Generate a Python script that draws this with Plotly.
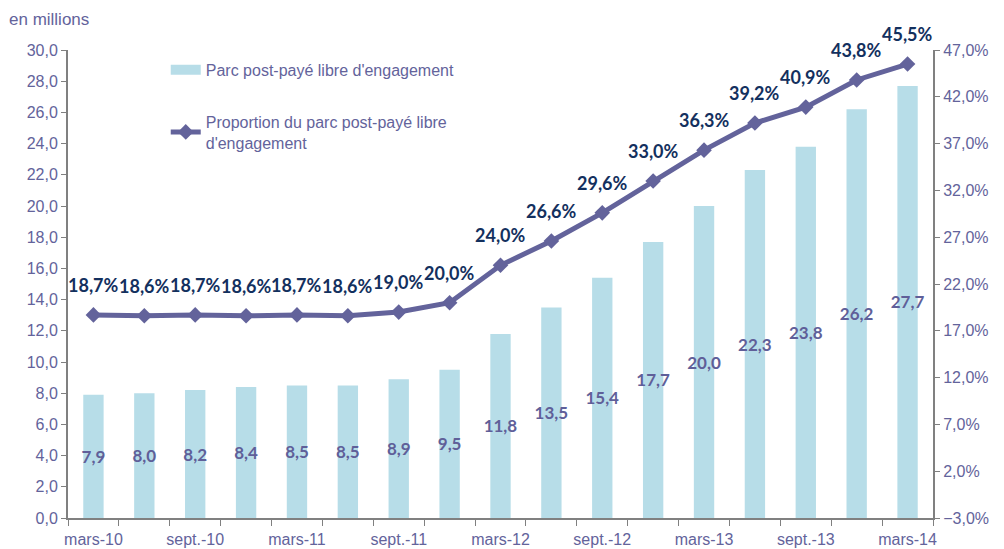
import plotly.graph_objects as go

categories = ["mars-10", "juin-10", "sept.-10", "déc.-10", "mars-11", "juin-11", "sept.-11", "déc.-11",
              "mars-12", "juin-12", "sept.-12", "déc.-12", "mars-13", "juin-13", "sept.-13", "déc.-13", "mars-14"]
tick_labels = ["mars-10", "", "sept.-10", "", "mars-11", "", "sept.-11", "", "mars-12", "", "sept.-12", "",
               "mars-13", "", "sept.-13", "", "mars-14"]
parc = [7.9, 8.0, 8.2, 8.4, 8.5, 8.5, 8.9, 9.5, 11.8, 13.5, 15.4, 17.7, 20.0, 22.3, 23.8, 26.2, 27.7]
proportion = [18.7, 18.6, 18.7, 18.6, 18.7, 18.6, 19.0, 20.0, 24.0, 26.6, 29.6, 33.0, 36.3, 39.2, 40.9, 43.8, 45.5]

fmt = lambda v: f"{v:.1f}".replace(".", ",")

axis_col = "#63639B"
bar_col = "#B7DDE8"
line_col = "#63639B"

fig = go.Figure()
fig.add_trace(go.Bar(
    x=categories, y=parc, showlegend=False,
    marker=dict(color=bar_col, line=dict(width=0)),
    text=[fmt(v) for v in parc], textposition="inside", insidetextanchor="middle",
    textangle=0, constraintext="none", cliponaxis=False,
    textfont=dict(family="Lato", size=17, color="#5F5F99", weight="bold"),
))
# legend-only entry with a wide swatch for the bars
fig.add_trace(go.Scatter(
    x=[None], y=[None], mode="lines", legendgroup="a",
    name="Parc post-payé libre d'engagement",
    line=dict(color=bar_col, width=12),
))
fig.add_trace(go.Scatter(
    x=categories, y=proportion, yaxis="y2", mode="lines+markers", legendgroup="b",
    name="Proportion du parc post-payé libre<br>d'engagement",
    line=dict(color=line_col, width=5),
    marker=dict(symbol="diamond", size=12, color=line_col),
    cliponaxis=False,
))

annotations = [dict(text="en millions", xref="paper", yref="paper", x=-0.07, y=1.04,
                    xanchor="left", yanchor="bottom", showarrow=False,
                    font=dict(size=17, color=axis_col))]
for c, v in zip(categories, proportion):
    annotations.append(dict(x=c, y=v, xref="x", yref="y2", text=fmt(v) + "%", showarrow=False,
                            yshift=30, xanchor="center", yanchor="middle",
                            font=dict(family="Lato", size=18, color="#13305E", weight="bold")))

fig.update_layout(
    width=996, height=541,
    margin=dict(l=60, r=71, t=42, b=31, autoexpand=False),
    paper_bgcolor="white", plot_bgcolor="white",
    separators=", ",
    bargap=0.6,
    font=dict(family="Liberation Sans", size=16, color=axis_col),
    xaxis=dict(type="category", tickmode="array", tickvals=categories, ticktext=tick_labels,
               range=[-0.5, 16.5],
               tickson="boundaries", ticks="outside", ticklen=6, tickcolor="#808080", tickangle=0,
               ticklabelstandoff=6,
               showline=True, linecolor="#808080", linewidth=2, showgrid=False, automargin=False,
               tickfont=dict(size=16, color=axis_col)),
    yaxis=dict(range=[0, 30], dtick=2, tickformat=".1f", ticks="outside", ticklen=5,
               tickcolor="#808080", showline=True, linecolor="#808080", linewidth=2, automargin=False,
               showgrid=False, zeroline=False, tickfont=dict(size=16, color=axis_col)),
    yaxis2=dict(range=[-3, 47], tick0=-3, dtick=5, tickformat=".1f", ticksuffix="%",
                overlaying="y", side="right", ticks="outside", ticklen=5, tickcolor="#808080",
                showline=True, linecolor="#808080", linewidth=2, showgrid=False, zeroline=False,
                automargin=False, tickfont=dict(size=16, color=axis_col)),
    legend=dict(x=0.113, y=0.994, xanchor="left", yanchor="top", bgcolor="rgba(0,0,0,0)",
                font=dict(size=16, color=axis_col), tracegroupgap=28),
    showlegend=True,
    annotations=annotations,
)
fig.write_html("out.html")
